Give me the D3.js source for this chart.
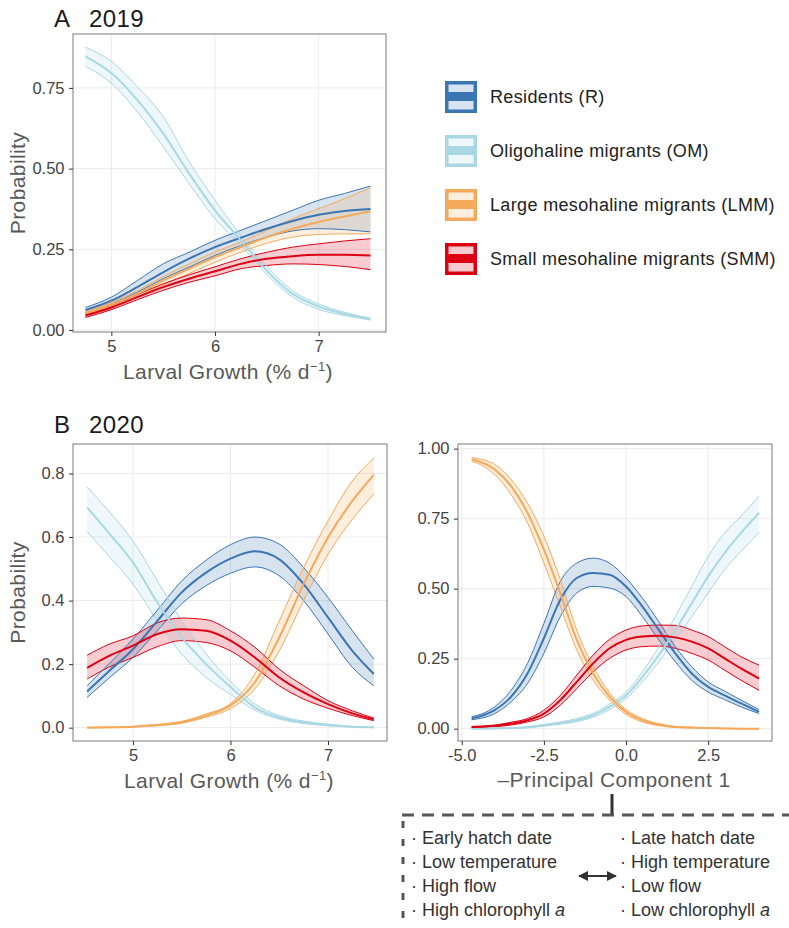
<!DOCTYPE html>
<html>
<head>
<meta charset="utf-8">
<script src="https://cdn.jsdelivr.net/npm/d3@7"></script>
<style>
  body { margin: 0; background: #fff; }
  svg { font-family: "Liberation Sans", Arial, sans-serif; display: block; }
</style>
</head>
<body>
<div id="chart"></div>
<script>
// groups
const groupKeys = ['R', 'OM', 'LMM', 'SMM'];
const groupNames = ['Residents (R)', 'Oligohaline migrants (OM)',
  'Large mesohaline migrants (LMM)', 'Small mesohaline migrants (SMM)'];
const groupColors = ['#3a75b4', '#a9d8e4', '#f5a95a', '#dc0012'];

// A: 2019, larval growth
const aGrowth = [4.75, 5.0, 5.25, 5.5, 5.75, 6.0, 6.25, 6.5, 6.75, 7.0, 7.25, 7.5];
const aRMid = [0.062, 0.091, 0.133, 0.179, 0.221, 0.257, 0.286, 0.314, 0.338, 0.357, 0.369, 0.375];
const aRLo = [0.052, 0.081, 0.117, 0.159, 0.195, 0.231, 0.262, 0.288, 0.307, 0.314, 0.311, 0.304];
const aRHi = [0.070, 0.102, 0.153, 0.205, 0.241, 0.278, 0.309, 0.340, 0.371, 0.402, 0.423, 0.446];
const aOMMid = [0.848, 0.796, 0.713, 0.609, 0.485, 0.371, 0.278, 0.184, 0.112, 0.073, 0.050, 0.034];
const aOMLo = [0.817, 0.765, 0.677, 0.568, 0.454, 0.345, 0.262, 0.172, 0.102, 0.064, 0.045, 0.031];
const aOMHi = [0.876, 0.832, 0.754, 0.661, 0.521, 0.402, 0.293, 0.197, 0.122, 0.081, 0.055, 0.037];
const aLMMMid = [0.052, 0.079, 0.112, 0.153, 0.190, 0.226, 0.257, 0.288, 0.314, 0.335, 0.352, 0.368];
const aLMMLo = [0.047, 0.072, 0.102, 0.140, 0.175, 0.210, 0.241, 0.269, 0.288, 0.296, 0.298, 0.298];
const aLMMHi = [0.057, 0.086, 0.122, 0.166, 0.205, 0.242, 0.273, 0.309, 0.345, 0.376, 0.407, 0.441];
const aSMMMid = [0.045, 0.070, 0.102, 0.133, 0.159, 0.182, 0.205, 0.221, 0.229, 0.233, 0.233, 0.231];
const aSMMLo = [0.039, 0.063, 0.094, 0.123, 0.148, 0.168, 0.190, 0.200, 0.205, 0.203, 0.197, 0.187];
const aSMMHi = [0.052, 0.077, 0.110, 0.143, 0.171, 0.196, 0.221, 0.241, 0.257, 0.267, 0.276, 0.283];

// B: 2020, larval growth
const bGrowth = [4.53, 4.75, 5.0, 5.25, 5.5, 5.75, 6.0, 6.25, 6.5, 6.75, 7.0, 7.25, 7.47];
const bRMid = [0.114, 0.177, 0.247, 0.336, 0.426, 0.488, 0.532, 0.555, 0.530, 0.452, 0.347, 0.242, 0.169];
const bRLo = [0.095, 0.155, 0.221, 0.305, 0.390, 0.447, 0.486, 0.506, 0.478, 0.400, 0.295, 0.190, 0.132];
const bRHi = [0.132, 0.200, 0.279, 0.370, 0.462, 0.527, 0.576, 0.600, 0.578, 0.504, 0.410, 0.305, 0.216];
const bOMMid = [0.693, 0.614, 0.520, 0.394, 0.284, 0.200, 0.128, 0.064, 0.032, 0.017, 0.008, 0.003, 0.001];
const bOMLo = [0.617, 0.541, 0.452, 0.336, 0.232, 0.158, 0.105, 0.055, 0.027, 0.013, 0.006, 0.002, 0.000];
const bOMHi = [0.758, 0.682, 0.588, 0.462, 0.336, 0.232, 0.145, 0.075, 0.038, 0.021, 0.011, 0.004, 0.002];
const bLMMMid = [0.000, 0.001, 0.003, 0.008, 0.017, 0.038, 0.070, 0.143, 0.284, 0.452, 0.599, 0.714, 0.796];
const bLMMLo = [0.000, 0.000, 0.002, 0.006, 0.014, 0.033, 0.060, 0.122, 0.242, 0.400, 0.546, 0.656, 0.735];
const bLMMHi = [0.001, 0.002, 0.004, 0.010, 0.020, 0.043, 0.076, 0.169, 0.336, 0.504, 0.651, 0.777, 0.848];
const bSMMMid = [0.188, 0.225, 0.258, 0.295, 0.310, 0.305, 0.274, 0.221, 0.158, 0.111, 0.074, 0.045, 0.026];
const bSMMLo = [0.153, 0.190, 0.221, 0.255, 0.274, 0.268, 0.242, 0.190, 0.132, 0.090, 0.061, 0.038, 0.022];
const bSMMHi = [0.228, 0.262, 0.289, 0.330, 0.345, 0.340, 0.305, 0.253, 0.184, 0.132, 0.085, 0.053, 0.030];

// B: 2020, -PC1
const cPC1 = [-4.7, -4.0, -3.5, -3.0, -2.5, -2.0, -1.5, -1.0, -0.5, 0.0, 0.5, 1.0, 1.5, 2.0, 2.5, 3.0, 3.5, 4.05];
const cRMid = [0.036, 0.066, 0.114, 0.197, 0.323, 0.460, 0.538, 0.556, 0.550, 0.508, 0.436, 0.352, 0.269, 0.197, 0.149, 0.119, 0.090, 0.060];
const cRLo = [0.032, 0.054, 0.096, 0.161, 0.269, 0.400, 0.484, 0.508, 0.502, 0.472, 0.400, 0.317, 0.239, 0.173, 0.131, 0.104, 0.078, 0.054];
const cRHi = [0.042, 0.078, 0.137, 0.233, 0.376, 0.526, 0.591, 0.609, 0.591, 0.538, 0.466, 0.382, 0.293, 0.221, 0.167, 0.134, 0.102, 0.068];
const cOMMid = [0.000, 0.001, 0.002, 0.005, 0.012, 0.020, 0.030, 0.048, 0.078, 0.119, 0.185, 0.263, 0.352, 0.448, 0.544, 0.627, 0.699, 0.771];
const cOMLo = [0.000, 0.000, 0.001, 0.003, 0.009, 0.016, 0.025, 0.041, 0.068, 0.108, 0.167, 0.239, 0.317, 0.400, 0.484, 0.568, 0.633, 0.701];
const cOMHi = [0.001, 0.002, 0.003, 0.007, 0.015, 0.024, 0.036, 0.055, 0.088, 0.131, 0.203, 0.293, 0.400, 0.508, 0.615, 0.699, 0.759, 0.830];
const cLMMMid = [0.962, 0.926, 0.866, 0.771, 0.639, 0.484, 0.317, 0.197, 0.114, 0.060, 0.030, 0.014, 0.006, 0.004, 0.002, 0.001, 0.000, 0.000];
const cLMMLo = [0.956, 0.908, 0.836, 0.735, 0.591, 0.436, 0.281, 0.173, 0.102, 0.051, 0.024, 0.011, 0.005, 0.003, 0.001, 0.000, 0.000, 0.000];
const cLMMHi = [0.968, 0.944, 0.890, 0.806, 0.687, 0.532, 0.352, 0.221, 0.128, 0.068, 0.036, 0.018, 0.008, 0.005, 0.003, 0.001, 0.001, 0.000];
const cSMMMid = [0.006, 0.010, 0.018, 0.030, 0.054, 0.102, 0.167, 0.233, 0.287, 0.317, 0.329, 0.332, 0.326, 0.311, 0.287, 0.251, 0.215, 0.179];
const cSMMLo = [0.004, 0.007, 0.013, 0.024, 0.042, 0.084, 0.143, 0.203, 0.251, 0.281, 0.293, 0.295, 0.287, 0.269, 0.245, 0.209, 0.173, 0.137];
const cSMMHi = [0.008, 0.013, 0.023, 0.036, 0.066, 0.119, 0.191, 0.263, 0.319, 0.352, 0.367, 0.370, 0.369, 0.352, 0.329, 0.293, 0.257, 0.227];

// ticks
const growthTicksA = [5, 6, 7];
const probTicksA = [0, 0.25, 0.5, 0.75];
const growthTicksB = [5, 6, 7];
const probTicksB = [0, 0.2, 0.4, 0.6, 0.8];
const pcTicks = [-5, -2.5, 0, 2.5];
const probTicksC = [0, 0.25, 0.5, 0.75, 1];

// bottom note
const lowSide = ['Early hatch date', 'Low temperature', 'High flow', 'High chlorophyll '];
const highSide = ['Late hatch date', 'High temperature', 'Low flow', 'Low chlorophyll '];

const toRows = (xs, mid, lo, hi) => xs.map((x, i) => ({x, mid: mid[i], lo: lo[i], hi: hi[i]}));

const panels = [
  {
    box: [73, 34, 386, 332],
    xDomain: [4.63, 7.65], yDomain: [-0.006, 0.917],
    xTicks: growthTicksA, yTicks: probTicksA,
    xFmt: (d) => String(d), yFmt: (d) => d.toFixed(2),
    series: [
      toRows(aGrowth, aRMid, aRLo, aRHi),
      toRows(aGrowth, aOMMid, aOMLo, aOMHi),
      toRows(aGrowth, aLMMMid, aLMMLo, aLMMHi),
      toRows(aGrowth, aSMMMid, aSMMLo, aSMMHi)
    ]
  },
  {
    box: [73, 444, 387, 741],
    xDomain: [4.385, 7.605], yDomain: [-0.042, 0.893],
    xTicks: growthTicksB, yTicks: probTicksB,
    xFmt: (d) => String(d), yFmt: (d) => d.toFixed(1),
    series: [
      toRows(bGrowth, bRMid, bRLo, bRHi),
      toRows(bGrowth, bOMMid, bOMLo, bOMHi),
      toRows(bGrowth, bLMMMid, bLMMLo, bLMMHi),
      toRows(bGrowth, bSMMMid, bSMMLo, bSMMHi)
    ]
  },
  {
    box: [458, 444, 772, 741],
    xDomain: [-5.115, 4.444], yDomain: [-0.044, 1.0165],
    xTicks: pcTicks, yTicks: probTicksC,
    xFmt: (d) => d.toFixed(1), yFmt: (d) => d.toFixed(2),
    series: [
      toRows(cPC1, cRMid, cRLo, cRHi),
      toRows(cPC1, cOMMid, cOMLo, cOMHi),
      toRows(cPC1, cLMMMid, cLMMLo, cLMMHi),
      toRows(cPC1, cSMMMid, cSMMLo, cSMMHi)
    ]
  }
];

const svg = d3.select('#chart').append('svg')
    .attr('width', 789)
    .attr('height', 928);

const drawPanel = (p) => {
  const [x0, y0, x1, y1] = p.box;
  const x = d3.scaleLinear().domain(p.xDomain).range([x0, x1]);
  const y = d3.scaleLinear().domain(p.yDomain).range([y1, y0]);
  const g = svg.append('g');

  // grid
  g.append('g')
      .attr('stroke', '#ebebeb')
      .attr('stroke-width', 1)
      .call((s) => s.selectAll('.gx').data(p.xTicks).join('line')
          .attr('x1', (d) => x(d)).attr('x2', (d) => x(d))
          .attr('y1', y0).attr('y2', y1))
      .call((s) => s.selectAll('.gy').data(p.yTicks).join('line')
          .attr('y1', (d) => y(d)).attr('y2', (d) => y(d))
          .attr('x1', x0).attr('x2', x1));

  const area = d3.area()
      .curve(d3.curveMonotoneX)
      .x((d) => x(d.x)).y0((d) => y(d.lo)).y1((d) => y(d.hi));
  const line = (key) => d3.line()
      .curve(d3.curveMonotoneX)
      .x((d) => x(d.x)).y((d) => y(d[key]));

  g.append('g')
      .selectAll()
      .data(p.series)
      .join('path')
      .attr('d', area)
      .attr('fill', (d, i) => groupColors[i])
      .attr('fill-opacity', 0.2);

  ['lo', 'hi'].forEach((k) => {
    g.append('g')
        .attr('fill', 'none')
        .selectAll()
        .data(p.series)
        .join('path')
        .attr('d', line(k))
        .attr('stroke', (d, i) => groupColors[i])
        .attr('stroke-width', 1);
  });

  g.append('g')
      .attr('fill', 'none')
      .selectAll()
      .data(p.series)
      .join('path')
      .attr('d', line('mid'))
      .attr('stroke', (d, i) => groupColors[i])
      .attr('stroke-width', 2);

  g.append('rect')
      .attr('x', x0).attr('y', y0)
      .attr('width', x1 - x0).attr('height', y1 - y0)
      .attr('fill', 'none')
      .attr('stroke', '#7a7a7a')
      .attr('stroke-width', 1);

  const styleAxis = (s) => {
    s.select('.domain').remove();
    s.selectAll('.tick line').attr('stroke', '#333');
    s.selectAll('.tick text')
        .attr('fill', '#444')
        .attr('font-size', 16.5)
        .attr('font-family', '"Liberation Sans", Arial, sans-serif');
  };

  g.append('g')
      .attr('transform', `translate(0,${y1})`)
      .call(d3.axisBottom(x).tickValues(p.xTicks).tickFormat(p.xFmt)
          .tickSize(4).tickPadding(4.5))
      .call(styleAxis);

  g.append('g')
      .attr('transform', `translate(${x0},0)`)
      .call(d3.axisLeft(y).tickValues(p.yTicks).tickFormat(p.yFmt)
          .tickSize(4).tickPadding(4.5))
      .call(styleAxis);
};

panels.forEach(drawPanel);

// panel titles
const title = (lbl, yr, by) => {
  const t = svg.append('g').attr('font-size', 24).attr('fill', '#1a1a1a');
  t.append('text').attr('x', 54).attr('y', by).text(lbl);
  t.append('text').attr('x', 89).attr('y', by).attr('letter-spacing', 0.4).text(yr);
};
title('A', '2019', 27);
title('B', '2020', 433);

// axis titles
const axisTitle = svg.append('g')
    .attr('font-size', 21)
    .attr('letter-spacing', 0.4)
    .attr('fill', '#595959');
[[183], [592.5]].forEach(([cy]) => {
  axisTitle.append('text')
      .attr('transform', `translate(25,${cy}) rotate(-90)`)
      .attr('text-anchor', 'middle')
      .text('Probability');
});
[[228, 379], [229, 788]].forEach(([cx, by]) => {
  const t = axisTitle.append('text')
      .attr('x', cx).attr('y', by)
      .attr('text-anchor', 'middle');
  t.append('tspan').text('Larval Growth (% d');
  t.append('tspan').attr('font-size', 13).attr('dy', -8).text('\u2212' + '1');
  t.append('tspan').attr('dy', 8).text(')');
});
axisTitle.append('text')
    .attr('x', 614).attr('y', 787)
    .attr('text-anchor', 'middle')
    .text('\u2013Principal Component 1');

// legend
const legend = svg.append('g')
    .selectAll()
    .data(groupKeys)
    .join('g')
    .attr('transform', (d, i) => `translate(445,${81 + i * 54})`);
legend.append('rect')
    .attr('width', 32).attr('height', 32)
    .attr('fill', (d, i) => groupColors[i]);
legend.append('rect')
    .attr('x', 3.5).attr('y', 3.5).attr('width', 25).attr('height', 7.5)
    .attr('fill', '#fff').attr('fill-opacity', 0.8);
legend.append('rect')
    .attr('x', 3.5).attr('y', 20).attr('width', 25).attr('height', 8.5)
    .attr('fill', '#fff').attr('fill-opacity', 0.8);
legend.append('text')
    .attr('x', 45).attr('y', 16).attr('dy', '0.36em')
    .attr('font-size', 18).attr('letter-spacing', 0.35).attr('fill', '#222')
    .text((d, i) => groupNames[i]);

// explanatory note under PC1 axis
const note = svg.append('g');
note.append('line')
    .attr('x1', 612).attr('x2', 612).attr('y1', 794).attr('y2', 815)
    .attr('stroke', '#333').attr('stroke-width', 3);
note.append('line')
    .attr('x1', 402).attr('x2', 789).attr('y1', 815).attr('y2', 815)
    .attr('stroke', '#555').attr('stroke-width', 3)
    .attr('stroke-dasharray', '12,8');
note.append('line')
    .attr('x1', 403).attr('x2', 403).attr('y1', 821).attr('y2', 928)
    .attr('stroke', '#555').attr('stroke-width', 3)
    .attr('stroke-dasharray', '7,11');

const noteText = (items, nx) => {
  note.append('g')
      .attr('font-size', 18).attr('fill', '#333')
      .selectAll()
      .data(items)
      .join('text')
      .attr('x', nx)
      .attr('y', (d, i) => 844 + i * 24)
      .each(function(d, i) {
        const t = d3.select(this);
        t.append('tspan').text('\u00b7 ' + d);
        if (i === items.length - 1) {
          t.append('tspan').attr('font-style', 'italic').text('a');
        }
      });
};
noteText(lowSide, 411);
noteText(highSide, 620);

const defs = svg.append('defs');
defs.append('marker')
    .attr('id', 'head')
    .attr('viewBox', '0 0 10 10')
    .attr('refX', 9).attr('refY', 5)
    .attr('markerWidth', 5).attr('markerHeight', 5)
    .attr('orient', 'auto-start-reverse')
    .append('path')
    .attr('d', 'M0,0 L10,5 L0,10 z')
    .attr('fill', '#333');
note.append('line')
    .attr('x1', 579).attr('x2', 616).attr('y1', 876).attr('y2', 876)
    .attr('stroke', '#333').attr('stroke-width', 2)
    .attr('marker-start', 'url(#head)')
    .attr('marker-end', 'url(#head)');
</script>
</body>
</html>
